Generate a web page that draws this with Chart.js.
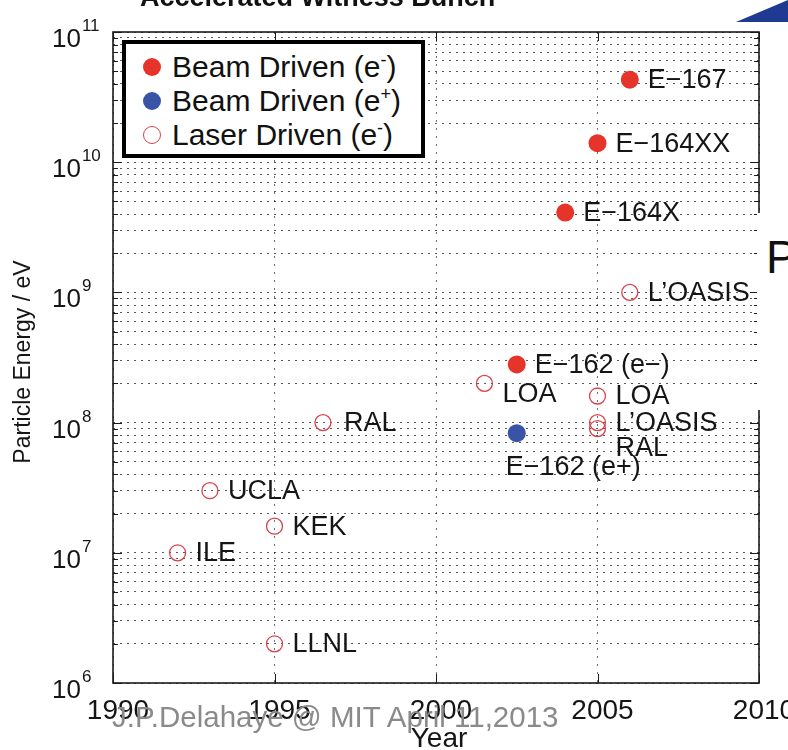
<!DOCTYPE html>
<html>
<head>
<meta charset="utf-8">
<script src="https://cdn.jsdelivr.net/npm/chart.js@4.4.1/dist/chart.umd.min.js"></script>
<style>
  body { margin: 0; width: 788px; height: 750px; overflow: hidden; position: relative; background: #fff;
         font-family: "Liberation Sans", Arial, Helvetica, sans-serif; }
  #chart { position: absolute; left: 0; top: 0; }
  .txt { position: absolute; white-space: nowrap; }
  #title { left: 140px; top: -18px; font-size: 27px; line-height: 30px; font-weight: bold; color: #111; }
  #logo { left: 736px; top: 0; width: 52px; height: 22px; background: #1f3a93;
          clip-path: polygon(0 100%, 100% 0, 100% 100%); }
  #mask { left: 757px; top: 213px; width: 31px; height: 197px; background: #fff; }
  #bigP { left: 766px; top: 230px; font-size: 46px; color: #111; }
  #legend { position: absolute; left: 122px; top: 40px; width: 295px; height: 110px;
            border: 4px solid #000; background: #fff; }
  .row { position: absolute; left: 0; width: 295px; height: 34px; line-height: 34px; font-size: 30px;
         color: #111; white-space: nowrap; }
  .mk { position: absolute; top: 8px; width: 18px; height: 18px; border-radius: 50%; box-sizing: border-box; }
  .row span.t { position: absolute; left: 46px; top: 0; }
  .row sup { font-size: 18px; vertical-align: 0; position: relative; top: -11px; }
  #credit { left: 112px; top: 700px; font-size: 29.5px; color: #8a8a8a; }
</style>
</head>
<body>
<canvas id="chart" width="788" height="750"></canvas>
<div id="title" class="txt">Accelerated Witness Bunch</div>
<div id="logo" class="txt"></div>
<div id="mask" class="txt"></div>
<div id="bigP" class="txt">P</div>
<div id="legend"></div>
<div id="credit" class="txt">J.P.Delahaye @ MIT April 11,2013</div>
<script>
// Données
const seriesNames = ["Beam Driven", "Beam Driven", "Laser Driven"];
const seriesCharge = ["-", "+", "-"];

const beamEYear = [2002.5, 2004, 2005, 2006];
const beamEEnergy = [2.8e8, 4.1e9, 1.4e10, 4.3e10];
const beamELabel = ["E\u2212162 (e\u2212)", "E\u2212164X", "E\u2212164XX", "E\u2212167"];

const beamPYear = [2002.5];
const beamPEnergy = [8.3e7];
const beamPLabel = ["E\u2212162 (e+)"];

const laserYear = [1992, 1993, 1995, 1995, 1996.5, 2001.5, 2005, 2005, 2005, 2006];
const laserEnergy = [1e7, 3e7, 1.6e7, 2e6, 1e8, 2e8, 1.6e8, 1e8, 9e7, 1e9];
const laserLabel = ["ILE", "UCLA", "KEK", "LLNL", "RAL", "LOA", "LOA", "L\u2019OASIS", "RAL", "L\u2019OASIS"];

const xTicks = [1990, 1995, 2000, 2005, 2010];
const yDecades = [1e6, 1e7, 1e8, 1e9, 1e10, 1e11];
const yExponents = ["6", "7", "8", "9", "10", "11"];

// décalages des étiquettes (pixels) par rapport au point
const beamEShift = [[18, 0], [18, 0], [18, 0], [18, 0]];
const beamPShift = [[-11, 33]];
const laserShift = [[18, 0], [18, 0], [18, 0], [18, 0], [21, 0], [18, 10], [18, 0], [18, 0], [18, 19], [18, 0]];

const RED = "#e6342a", BLUE = "#3953a6", PINK = "#d9424c";

function pts(xs, ys) {
  return xs.map((x, i) => ({ x: x, y: ys[i] }));
}

// petites graduations 2..9 par décade
const yTicks = [];
yDecades.forEach((d, i) => {
  if (i === yDecades.length - 1) { yTicks.push(d); return; }
  for (let k = 1; k <= 9; k++) yTicks.push(k * d);
});

const pointLabels = [beamELabel, beamPLabel, laserLabel];
const labelShifts = [beamEShift, beamPShift, laserShift];

// Légende HTML
const legendColors = [[RED, RED], [BLUE, BLUE], ["transparent", PINK]];
const legend = document.getElementById("legend");
seriesNames.forEach((name, i) => {
  const row = document.createElement("div");
  row.className = "row";
  row.style.top = (6 + i * 34) + "px";
  row.innerHTML = `<div class="mk" style="left:17px;background:${legendColors[i][0]};border:${i === 2 ? 1.3 : 0}px solid ${legendColors[i][1]}"></div>
    <span class="t">${name} (e<sup>${seriesCharge[i]}</sup>)</span>`;
  legend.appendChild(row);
});

const axesDecor = {
  id: "axesDecor",
  afterDatasetsDraw(chart) {
    const c = chart.ctx, a = chart.chartArea;
    const xs = chart.scales.x, ys = chart.scales.y;
    c.save();
    // cadre
    c.strokeStyle = "#1a1a1a";
    c.lineWidth = 1.6;
    c.strokeRect(a.left, a.top, a.right - a.left, a.bottom - a.top);
    // graduations internes
    c.lineWidth = 1;
    yTicks.forEach(v => {
      const y = Math.round(ys.getPixelForValue(v)) + 0.5;
      const len = yDecades.includes(v) ? 9 : 5;
      c.beginPath();
      c.moveTo(a.left, y); c.lineTo(a.left + len, y);
      c.moveTo(a.right, y); c.lineTo(a.right - len, y);
      c.stroke();
    });
    xTicks.forEach(v => {
      const x = Math.round(xs.getPixelForValue(v)) + 0.5;
      c.beginPath();
      c.moveTo(x, a.bottom); c.lineTo(x, a.bottom - 9);
      c.moveTo(x, a.top); c.lineTo(x, a.top + 9);
      c.stroke();
    });
    // étiquettes des points
    c.fillStyle = "#151515";
    c.font = "27px 'Liberation Sans', Arial, sans-serif";
    c.textBaseline = "middle";
    c.textAlign = "left";
    chart.data.datasets.forEach((ds, i) => {
      const meta = chart.getDatasetMeta(i);
      meta.data.forEach((el, j) => {
        const s = labelShifts[i][j];
        c.fillText(pointLabels[i][j], el.x + s[0], el.y + s[1] + 1);
      });
    });
    // libellés des axes
    c.textBaseline = "alphabetic";
    c.textAlign = "center";
    c.font = "28px 'Liberation Sans', Arial, sans-serif";
    xTicks.forEach(v => {
      c.fillText(String(v), xs.getPixelForValue(v) + 5, 719);
    });
    c.textAlign = "left";
    yDecades.forEach((v, i) => {
      const y = ys.getPixelForValue(v);
      c.font = "26px 'Liberation Sans', Arial, sans-serif";
      c.fillText("10", 52, y + 15);
      const w = c.measureText("10").width;
      c.font = "17px 'Liberation Sans', Arial, sans-serif";
      c.fillText(yExponents[i], 52 + w + 1, y - 1);
    });
    c.textAlign = "center";
    c.font = "28px 'Liberation Sans', Arial, sans-serif";
    c.fillText("Year", (a.left + a.right) / 2 + 3, 747);
    c.translate(30, 362);
    c.rotate(-Math.PI / 2);
    c.font = "23px 'Liberation Sans', Arial, sans-serif";
    c.fillText("Particle Energy / eV", 0, 0);
    c.restore();
  }
};

new Chart(document.getElementById("chart"), {
  type: "scatter",
  data: {
    datasets: [
      { label: seriesNames[0], data: pts(beamEYear, beamEEnergy), pointRadius: 9,
        backgroundColor: RED, borderColor: RED, borderWidth: 0 },
      { label: seriesNames[1], data: pts(beamPYear, beamPEnergy), pointRadius: 9,
        backgroundColor: BLUE, borderColor: BLUE, borderWidth: 0 },
      { label: seriesNames[2], data: pts(laserYear, laserEnergy), pointRadius: 8,
        backgroundColor: "rgba(0,0,0,0)", borderColor: PINK, borderWidth: 1.3 }
    ]
  },
  options: {
    responsive: false,
    animation: false,
    devicePixelRatio: 1,
    layout: { padding: { left: 113, right: 29, top: 32, bottom: 67 } },
    plugins: { legend: { display: false }, tooltip: { enabled: false } },
    scales: {
      x: {
        type: "linear", min: 1990, max: 2010,
        afterBuildTicks: s => { s.ticks = xTicks.map(v => ({ value: v })); },
        ticks: { display: false },
        grid: { color: "rgba(0,0,0,0.55)", lineWidth: 1, drawTicks: false },
        border: { display: false, dash: [2, 6] }
      },
      y: {
        type: "logarithmic", min: 1e6, max: 1e11,
        afterBuildTicks: s => { s.ticks = yTicks.map(v => ({ value: v })); },
        ticks: { display: false },
        grid: { color: "rgba(0,0,0,0.65)", lineWidth: 1, drawTicks: false },
        border: { display: false, dash: [2, 5] }
      }
    }
  },
  plugins: [axesDecor]
});
</script>
</body>
</html>
